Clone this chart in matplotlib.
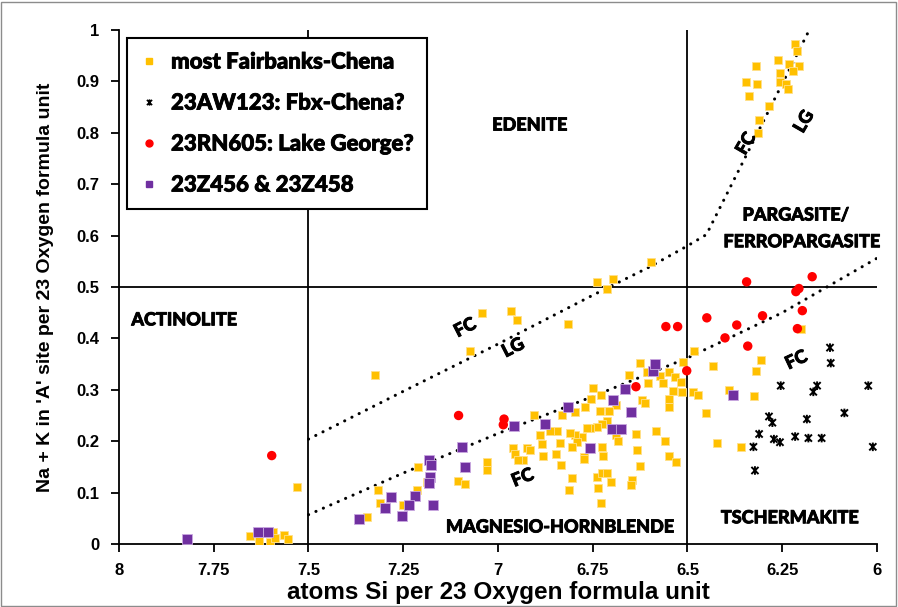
import matplotlib

matplotlib.use("Agg")
import matplotlib.patheffects as pe
import matplotlib.pyplot as plt
from matplotlib.lines import Line2D
from matplotlib.patches import Rectangle
from matplotlib.path import Path

# --- data -------------------------------------------------------------------
FAIRBANKS_SI = [
    7.531, 7.654, 7.631, 7.602, 7.593, 7.588, 7.564, 7.553,
    7.325, 7.075, 7.041, 7.210, 7.030, 7.028, 7.188, 7.106, 7.088, 7.317,
    7.215, 7.311, 7.251, 7.346,
    6.966, 6.951, 6.816, 6.740, 6.696, 6.713, 6.596,
    6.482, 6.432, 6.511, 6.201, 6.306, 6.319, 6.390, 6.325, 6.451, 6.423, 6.360,
    6.905, 6.832, 6.798, 6.770, 6.755, 6.749, 6.729, 6.689, 6.731, 6.708,
    6.654, 6.625, 6.608, 6.603, 6.573, 6.564, 6.548, 6.533, 6.517, 6.539,
    6.515, 6.486, 6.473, 6.548, 6.548, 6.621, 6.612, 6.583, 6.559, 6.637,
    6.689, 6.683, 6.713, 6.726, 6.740, 6.757, 6.766, 6.726, 6.779, 6.797,
    6.810, 6.792, 6.806, 6.836, 6.845, 6.863, 6.889, 6.885, 6.847, 6.882,
    6.960, 6.955, 6.924, 6.916, 6.933, 6.946, 6.773, 6.722, 6.634, 6.548,
    6.834, 6.772, 6.804, 6.812, 6.624, 6.531, 6.740, 6.726, 6.713, 6.702,
    6.647, 6.650, 6.735, 6.728,
    6.216, 6.210, 6.320, 6.262, 6.233, 6.205, 6.221, 6.256, 6.346, 6.316,
    6.256, 6.240, 6.236, 6.337, 6.285, 6.311, 6.314,
]
FAIRBANKS_NAK = [
    0.111, 0.016, 0.006, 0.004, 0.024, 0.011, 0.018, 0.010,
    0.329, 0.376, 0.450, 0.150, 0.160, 0.144, 0.121, 0.123, 0.117, 0.105,
    0.106, 0.079, 0.076, 0.053,
    0.453, 0.436, 0.428, 0.509, 0.516, 0.496, 0.549,
    0.376, 0.347, 0.355, 0.418, 0.357, 0.337, 0.300, 0.288, 0.255, 0.196, 0.189,
    0.250, 0.251, 0.256, 0.266, 0.282, 0.304, 0.290, 0.270, 0.259, 0.258,
    0.329, 0.352, 0.335, 0.313, 0.326, 0.313, 0.335, 0.324, 0.315, 0.298,
    0.295, 0.296, 0.289, 0.283, 0.267, 0.280, 0.275, 0.220, 0.200, 0.214,
    0.212, 0.201, 0.239, 0.233, 0.228, 0.226, 0.225, 0.189, 0.209, 0.212,
    0.215, 0.199, 0.189, 0.197, 0.219, 0.220, 0.213, 0.194, 0.175, 0.171,
    0.187, 0.176, 0.186, 0.182, 0.163, 0.163, 0.169, 0.171, 0.183, 0.171,
    0.154, 0.165, 0.129, 0.105, 0.152, 0.159, 0.131, 0.139, 0.139, 0.121,
    0.125, 0.115, 0.108, 0.079,
    0.973, 0.959, 0.929, 0.941, 0.933, 0.929, 0.921, 0.917, 0.898, 0.895,
    0.898, 0.895, 0.885, 0.872, 0.852, 0.825, 0.799,
]

AW123_SI = [
    6.124, 6.122, 6.254, 6.158, 6.168, 6.023, 6.086, 6.285, 6.276, 6.185,
    6.311, 6.272, 6.256, 6.216, 6.181, 6.146, 6.326, 6.011, 6.322,
]
AW123_NAK = [
    0.382, 0.352, 0.308, 0.308, 0.296, 0.308, 0.255, 0.248, 0.236, 0.243,
    0.214, 0.204, 0.198, 0.209, 0.206, 0.206, 0.189, 0.189, 0.143,
]

RN605_SI = [
    7.597, 7.104, 6.984, 6.986, 6.557, 6.526, 6.449, 6.502, 6.636, 6.344,
    6.214, 6.206, 6.171, 6.370, 6.302, 6.197, 6.401, 6.341, 6.210,
]
RN605_NAK = [
    0.172, 0.250, 0.243, 0.232, 0.423, 0.423, 0.440, 0.337, 0.306, 0.510,
    0.491, 0.497, 0.520, 0.426, 0.444, 0.454, 0.401, 0.385, 0.419,
]

Z456_SI = [
    7.820, 7.632, 7.606, 7.096, 7.183, 7.176, 7.088, 7.179, 7.181, 7.282,
    7.220, 7.299, 7.235, 7.172, 7.252, 7.366, 6.957, 6.876, 6.815, 6.697,
    6.665, 6.592, 6.586, 6.650, 6.700, 6.675, 6.757, 6.379,
]
Z456_NAK = [
    0.009, 0.024, 0.023, 0.188, 0.163, 0.153, 0.149, 0.130, 0.118, 0.091,
    0.093, 0.070, 0.075, 0.075, 0.054, 0.049, 0.230, 0.233, 0.267, 0.281,
    0.301, 0.337, 0.350, 0.257, 0.223, 0.223, 0.186, 0.290,
]

# field boundaries (dotted) between source fields
FC_LG_SI = [7.5, 7.25, 7.0, 6.75, 6.6, 6.5, 6.45, 6.18]
FC_LG_NAK = [0.204, 0.297, 0.389, 0.484, 0.539, 0.580, 0.602, 0.998]
LOWER_SI = [7.5, 7.25, 7.0, 6.75, 6.5, 6.25, 6.0]
LOWER_NAK = [0.057, 0.138, 0.215, 0.287, 0.362, 0.450, 0.556]

X_TICKS = [8, 7.75, 7.5, 7.25, 7, 6.75, 6.5, 6.25, 6]
X_TICK_LABELS = ["8", "7.75", "7.5", "7.25", "7", "6.75", "6.5", "6.25", "6"]
Y_TICKS = [0, 0.1, 0.2, 0.3, 0.4, 0.5, 0.6, 0.7, 0.8, 0.9, 1]
Y_TICK_LABELS = ["0", "0.1", "0.2", "0.3", "0.4", "0.5", "0.6", "0.7", "0.8", "0.9", "1"]

ORANGE = "#FFC000"
PURPLE = "#7030A0"
RED = "#FF0000"

LABEL_FONT = ["Lato", "DejaVu Sans"]
AXIS_FONT = ["Liberation Sans Narrow", "Liberation Sans", "DejaVu Sans"]
HEAVY = [pe.withStroke(linewidth=0.6, foreground="black")]

# asterisk-like marker: an X with a vertical stroke through it
STAR = Path(
    [(-1, -1), (1, 1), (-1, 1), (1, -1), (0, -1.2), (0, 1.2)],
    [Path.MOVETO, Path.LINETO, Path.MOVETO, Path.LINETO, Path.MOVETO, Path.LINETO],
)

fig = plt.figure(figsize=(8.98, 6.07), dpi=100)
ax = fig.add_axes([0.1325, 0.1038, 0.8441, 0.8468])

# quadrant dividers
ax.axvline(7.5, color="black", lw=1.3, zorder=1)
ax.axvline(6.5, color="black", lw=1.3, zorder=1)
ax.axhline(0.5, color="black", lw=1.3, zorder=1)

dots = dict(color="black", lw=2.2, linestyle=(0, (0.05, 2.6)), dash_capstyle="round", zorder=2)
ax.plot(FC_LG_SI, FC_LG_NAK, **dots)
ax.plot(LOWER_SI, LOWER_NAK, **dots)

ax.scatter(FAIRBANKS_SI, FAIRBANKS_NAK, marker="s", s=40, color=ORANGE,
           edgecolors="#FFE08A", linewidths=0.6, zorder=3)
ax.scatter(AW123_SI, AW123_NAK, marker=STAR, s=38, facecolors="none",
           edgecolors="black", linewidths=1.4, zorder=4)
ax.scatter(RN605_SI, RN605_NAK, marker="o", s=46, color=RED, edgecolors="none", zorder=5)
ax.scatter(Z456_SI, Z456_NAK, marker="s", s=44, color=PURPLE,
           edgecolors="#C9A8E0", linewidths=0.6, zorder=4)

ax.set_xlim(8, 6)
ax.set_ylim(0, 1)
ax.set_xticks(X_TICKS)
ax.set_xticklabels(X_TICK_LABELS)
ax.set_yticks(Y_TICKS)
ax.set_yticklabels(Y_TICK_LABELS)
ax.tick_params(direction="out", length=6, width=1.3, labelsize=12, pad=8)
for lab in ax.get_xticklabels() + ax.get_yticklabels():
    lab.set_family(AXIS_FONT)
    lab.set_fontweight("bold")
for side in ["top", "right"]:
    ax.spines[side].set_visible(False)
for side in ["left", "bottom"]:
    ax.spines[side].set_linewidth(1.3)

ax.set_xlabel("atoms Si per 23 Oxygen formula unit", family=AXIS_FONT,
              fontsize=17.5, fontweight="bold", labelpad=2)
ax.set_ylabel("Na + K in 'A' site per 23 Oxygen formula unit", family=AXIS_FONT,
              fontsize=14, fontweight="bold", labelpad=16)

# amphibole field names
region = dict(family=LABEL_FONT, fontsize=13, fontweight=900, ha="center", va="center",
              path_effects=HEAVY)
ax.text(6.916, 0.815, "EDENITE", **region)
ax.text(7.828, 0.436, "ACTINOLITE", **region)
ax.text(6.214, 0.640, "PARGASITE/", **region)
ax.text(6.198, 0.588, "FERROPARGASITE", **region)
ax.text(6.836, 0.033, "MAGNESIO-HORNBLENDE", **region)
ax.text(6.230, 0.051, "TSCHERMAKITE", **region)

# source-field tags along the dotted boundaries
tag = dict(family=LABEL_FONT, fontsize=13, fontweight=900, ha="center", va="center",
           path_effects=HEAVY)
ax.text(7.087, 0.421, "FC", rotation=27, **tag)
ax.text(6.960, 0.382, "LG", rotation=27, **tag)
ax.text(6.935, 0.129, "FC", rotation=22, **tag)
ax.text(6.213, 0.358, "FC", rotation=25, **tag)
ax.text(6.346, 0.779, "FC", rotation=60, **tag)
ax.text(6.193, 0.822, "LG", rotation=60, **tag)

handles = [
    Line2D([], [], marker="s", ls="none", color=ORANGE, markersize=5),
    Line2D([], [], marker=STAR, ls="none", color="black", markerfacecolor="none",
           markersize=4.5, markeredgewidth=1.2),
    Line2D([], [], marker="o", ls="none", color=RED, markersize=5),
    Line2D([], [], marker="s", ls="none", color=PURPLE, markersize=5),
]
labels = ["most Fairbanks-Chena", "23AW123: Fbx-Chena?", "23RN605: Lake George?", "23Z456 & 23Z458"]
leg = ax.legend(handles, labels, loc="upper left", bbox_to_anchor=(0.010, 0.984),
                prop={"family": LABEL_FONT, "weight": 900, "size": 16},
                frameon=True, fancybox=False, edgecolor="black", framealpha=1,
                handlelength=0.8, handletextpad=0.6, labelspacing=0.9,
                borderpad=0.6, borderaxespad=0.0)
leg.get_frame().set_linewidth(1.5)
for txt in leg.get_texts():
    txt.set_path_effects(HEAVY)

# chart-area border
fig.patches.append(Rectangle((0.001, 0.002), 0.997, 0.995, transform=fig.transFigure,
                             fill=False, edgecolor="#8c8c8c", lw=1.0))

fig.savefig("out.png", dpi=100)
